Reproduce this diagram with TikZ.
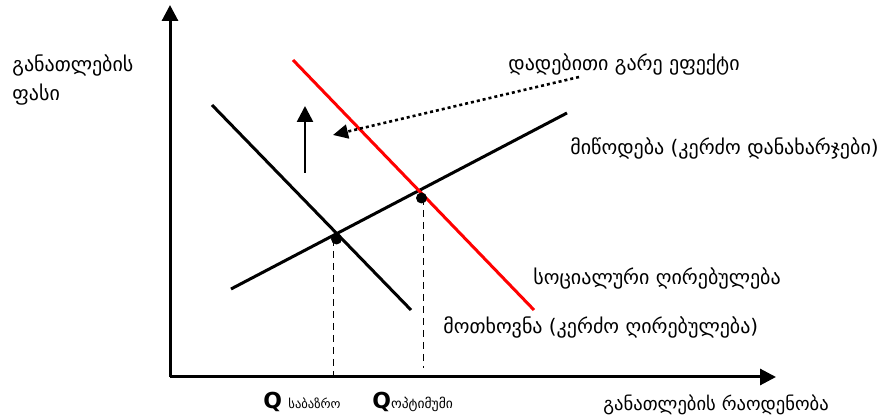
\documentclass[tikz,border=0pt]{standalone}
\usepackage{fontspec}
\setmainfont{DejaVu Sans}
\usetikzlibrary{arrows.meta,positioning}

\begin{document}
\begin{tikzpicture}[
  x=0.5pt, y=-0.5pt,
  font=\fontsize{10}{14.5}\selectfont,
  every node/.style={align=left, inner sep=0pt},
  axis/.style={line width=1.5pt, -{Triangle[length=8pt,width=8pt]}},
  curve/.style={line width=1.5pt, black},
  social/.style={line width=1.5pt, red},
  guide/.style={line width=0.9pt, dash pattern=on 3.5pt off 2.5pt},
  arr/.style={line width=1.3pt, -{Triangle[length=8pt,width=8pt]}},
  ext/.style={line width=1.3pt, dash pattern=on 1.5pt off 1.5pt, -{Triangle[length=7.5pt,width=7pt]}},
  eq/.style={circle, fill=black, minimum size=5.5pt},
  lbl/.style={anchor=west},
]
\useasboundingbox (0,0) rectangle (878,416);

%% --- Axes ---
\coordinate (O)  at (170,377);
\coordinate (Yt) at (170,5);
\coordinate (Xt) at (776,377);
\draw[axis] (O) -- (Yt);
\draw[axis] (O) -- (Xt);

%% --- Curves ---
\coordinate (D1) at (212,105);
\coordinate (D2) at (411,310);
\coordinate (S1) at (231,289);
\coordinate (S2) at (567,113);
\coordinate (R1) at (293,60);
\coordinate (R2) at (534,310);
\draw[curve]  (D1) -- (D2);
\draw[curve]  (S1) -- (S2);
\draw[social] (R1) -- (R2);

%% --- Equilibria ---
\node[eq] (Em) at (336.5,239) {};
\node[eq] (Eo) at (421.5,198) {};
\coordinate (Qm) at (333.5,377);
\coordinate (Qo) at (423.5,368);
\draw[guide] (Em.center) ++(-3,0) -- (Qm);
\draw[guide] (Eo.center) ++(2,0) -- (Qo);

%% --- Shift and externality arrows ---
\coordinate (U1) at (305,173);
\coordinate (U2) at (305,106);
\draw[arr] (U1) -- (U2);
\coordinate (X1) at (579,77);
\coordinate (X2) at (333,135);
\draw[ext] (X1) -- (X2);

%% --- Labels ---
\node[lbl] (yl) at (12,79.5) {განათლების\\ფასი};
\node[lbl, font=\fontsize{9.3}{11}\selectfont] (xl) at (603,405) {განათლების რაოდენობა};
\node[lbl] (el) at (508,64)  {დადებითი გარე ეფექტი};
\node[lbl] (sl) at (570,148) {მიწოდება (კერძო დანახარჯები)};
\node[lbl] (rl) at (533,278) {სოციალური ღირებულება};
\node[lbl] (dl) at (443,327) {მოთხოვნა (კერძო ღირებულება)};
\node[lbl] (qm) at (263,402) {{\fontsize{11}{12}\selectfont\bfseries Q} {\fontsize{6.3}{7}\selectfont საბაზრო}};
\node[lbl] (qo) at (372,402) {{\fontsize{11}{12}\selectfont\bfseries Q}{\fontsize{6.8}{7}\selectfont ოპტიმუმი}};

\end{tikzpicture}
\end{document}
